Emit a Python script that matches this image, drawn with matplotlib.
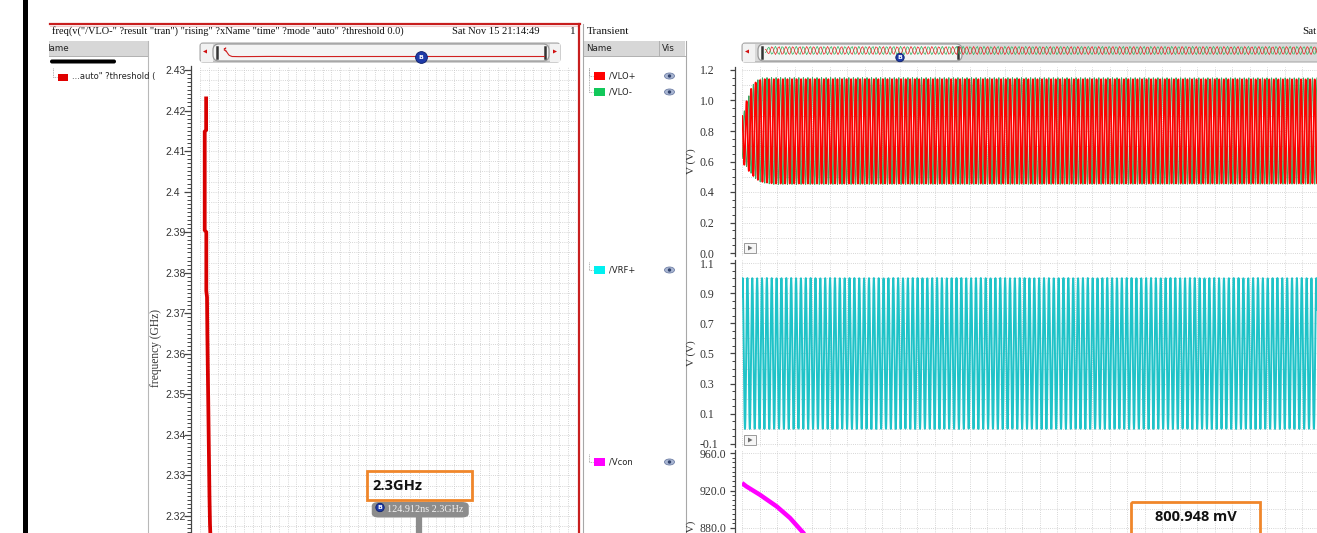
import numpy as np
import matplotlib
matplotlib.use("Agg")
import matplotlib.pyplot as plt
from matplotlib.patches import Rectangle, FancyBboxPatch, Circle, Ellipse, Polygon
from matplotlib.ticker import FixedLocator, AutoMinorLocator, FuncFormatter
from matplotlib.transforms import blended_transform_factory

W, H = 1317, 533

# ---------------- data ----------------
# freq(v("/VLO-")) : time [ns] vs. frequency [GHz]
freq_t_ns = [3.5, 3.5, 2.7, 2.7, 3.6, 3.6, 4.0, 4.2, 4.5, 4.8, 5.1, 5.4, 5.7,
             6.4, 7.5, 12.0, 30.0, 60.0, 90.0, 124.912, 160.0, 214.7]
freq_ghz = [2.423, 2.4152, 2.4148, 2.3905, 2.390, 2.3755, 2.374, 2.365, 2.355,
            2.345, 2.335, 2.325, 2.318, 2.310, 2.300, 2.298, 2.301, 2.299, 2.300,
            2.300, 2.300, 2.300]
freq_ticks = [2.30, 2.31, 2.32, 2.33, 2.34, 2.35, 2.36, 2.37, 2.38, 2.39, 2.40,
              2.41, 2.42, 2.43]
marker_t_ns = 124.912
marker_f_ghz = 2.3

# transient signals
sim_stop_ns = 214.7
view_stop_ns = 55.0
lo_ghz = 2.3
rf_ghz = 2.15
env_t_ns = [0.0, 0.5, 1.0, 1.5, 2.0, 3.0, 214.7]
vlop_hi = [0.90, 1.01, 1.10, 1.13, 1.14, 1.14, 1.14]
vlop_lo = [0.60, 0.55, 0.51, 0.48, 0.465, 0.455, 0.455]
vlon_hi = [0.88, 1.00, 1.10, 1.135, 1.15, 1.15, 1.15]
vlon_lo = [0.62, 0.56, 0.51, 0.475, 0.46, 0.45, 0.45]
vrf_low, vrf_high, vrf_start = 0.0, 1.0, 0.88
vcon_t_ns = [0.0, 0.4, 1.72, 3.32, 4.59, 5.84, 7.2]
vcon_mv = [928.0, 924.5, 915.4, 903.0, 890.7, 875.1, 858.0]
vcon_label_mv = 800.948

lo_ticks = [0.0, 0.2, 0.4, 0.6, 0.8, 1.0, 1.2]
rf_ticks = [-0.1, 0.1, 0.3, 0.5, 0.7, 0.9, 1.1]
vcon_ticks = [800.0, 840.0, 880.0, 920.0, 960.0]

# ---------------- style ----------------
SERIF = "Liberation Serif"
SANS = "DejaVu Sans"
GRID = "#c9c9c9"
TICKC = "#444444"
ORANGE = "#f0862a"
PT = 72 / 100  # points per pixel

fig = plt.figure(figsize=(W / 100, H / 100), dpi=100)
fig.patch.set_facecolor("white")


def px_axes(left, top, right, bottom, z=2):
    return fig.add_axes([left / W, 1 - bottom / H, (right - left) / W, (bottom - top) / H], zorder=z)


def ylim_from(top, bottom, p1, v1, p2, v2):
    k = (v1 - v2) / (p2 - p1)
    return v2 - (bottom - p2) * k, v1 + (p1 - top) * k


def overlay(z):
    a = fig.add_axes([0, 0, 1, 1], zorder=z)
    a.set_xlim(0, W)
    a.set_ylim(H, 0)
    a.axis("off")
    return a


def style_axis(ax, ticks, fmt, nminor, outward_px, tlen_px, label_left_px, font, fsize):
    """Detached left axis with tick labels left-aligned at a fixed x position."""
    for s in ("top", "right", "bottom"):
        ax.spines[s].set_visible(False)
    ax.spines["left"].set_position(("outward", outward_px * PT))
    ax.spines["left"].set_color(TICKC)
    ax.spines["left"].set_linewidth(0.9)
    ax.yaxis.set_major_locator(FixedLocator(ticks))
    ax.yaxis.set_minor_locator(AutoMinorLocator(nminor))
    ax.yaxis.set_major_formatter(FuncFormatter(fmt))
    x0 = ax.get_position().x0 * W
    spine_x = x0 - outward_px
    pad_px = spine_x - tlen_px - label_left_px
    ax.tick_params(axis="y", which="major", length=tlen_px * PT, width=0.9, color=TICKC,
                   pad=pad_px * PT, labelsize=fsize, labelcolor="#333333")
    ax.tick_params(axis="y", which="minor", length=tlen_px * PT * 0.55, width=0.7, color=TICKC)
    plt.setp(ax.yaxis.get_majorticklabels(), ha="left", family=font)
    ax.set_xticks([])


def dotted_grid(ax, x0, x1, xstep, y0, y1, ystep):
    for x in np.arange(x0, x1, xstep):
        ax.axvline(x, color=GRID, lw=0.6, ls=(0, (1, 1.6)), zorder=0)
    for y in np.arange(y0, y1, ystep):
        ax.axhline(y, color=GRID, lw=0.6, ls=(0, (1, 1.6)), zorder=0)


bg = overlay(0)
fg = overlay(10)

# ---------------- frequency plot ----------------
axf = px_axes(200, 66, 576, 630)
f_lo, f_hi = ylim_from(66, 630, 70, 2.43, 516, 2.32)
axf.set_ylim(f_lo, f_hi)
axf.set_xlim(0, sim_stop_ns)
style_axis(axf, freq_ticks, lambda v, _: f"{v:g}", 10, 9, 7, 165, "Liberation Sans", 7.5)
dotted_grid(axf, 0, sim_stop_ns, 5.0, 2.2875, f_hi, 0.0025)
axf.plot(freq_t_ns, freq_ghz, color="#d80000", lw=2.7, solid_joinstyle="miter", zorder=3)
fig.text(156 / W, 1 - 348 / H, "frequency (GHz)", rotation=90, ha="center", va="center",
         family=SERIF, fontsize=8.3, color="#333333")

# marker B on frequency trace
bt = blended_transform_factory(axf.transData, fg.transData)
ns_per_px = sim_stop_ns / 376
fg.plot([marker_t_ns, marker_t_ns], [517, 540], color="#8c8c8c", lw=4.5, transform=bt,
        solid_capstyle="butt", zorder=4)
fg.add_patch(FancyBboxPatch((marker_t_ns - 47 * ns_per_px, 502), 97 * ns_per_px, 15.5,
                            boxstyle="round,pad=0,rounding_size=4", transform=bt,
                            fc="#8c8c8c", ec="none", zorder=5))
fg.text(marker_t_ns - 32 * ns_per_px, 510, f"{marker_t_ns:g}ns {marker_f_ghz:g}GHz", transform=bt,
        ha="left", va="center", family=SERIF, fontsize=7.3, color="#f2f2f2", zorder=6)
fg.add_patch(Circle((380, 507.5), 4.2, fc="#1e3aa8", ec="#0c1f6a", lw=0.6, zorder=7))
fg.text(380, 507.7, "B", ha="center", va="center", fontsize=4.5, color="white",
        fontweight="bold", zorder=8)

fg.add_patch(Rectangle((367, 470.5), 105, 29, fill=False, ec=ORANGE, lw=2.0, zorder=6))
fg.text(372, 486, f"{marker_f_ghz:g}GHz", ha="left", va="center", family="Open Sans",
        fontweight="bold", fontsize=10.5, color="#111111", zorder=7)

# ---------------- transient plots ----------------
t = np.linspace(0, sim_stop_ns, int(sim_stop_ns * lo_ghz * 32))


def envelope(hi, lo):
    h = np.interp(t, env_t_ns, hi)
    l = np.interp(t, env_t_ns, lo)
    return (h + l) / 2, (h - l) / 2


mp, ap = envelope(vlop_hi, vlop_lo)
mn, an = envelope(vlon_hi, vlon_lo)
carrier = np.cos(2 * np.pi * lo_ghz * t)
vlo_p = mp + ap * carrier
vlo_n = mn - an * carrier
rf_mid, rf_amp = (vrf_high + vrf_low) / 2, (vrf_high - vrf_low) / 2
rf_phase = np.arcsin((vrf_start - rf_mid) / rf_amp)
vrf = rf_mid + rf_amp * np.sin(2 * np.pi * rf_ghz * t + rf_phase)

XSTEP = view_stop_ns * 17.5 / 575

ax1 = px_axes(742, 67, W, 256)
ax1.set_ylim(*ylim_from(67, 256, 70, 1.2, 253, 0.0))
ax1.set_xlim(0, view_stop_ns)
style_axis(ax1, lo_ticks, lambda v, _: f"{v:.1f}", 4, 7, 5.5, 699.5, SERIF, 8.5)
dotted_grid(ax1, 0, view_stop_ns, XSTEP, 0.0, 1.25, 0.1)
ax1.plot(t, vlo_n, color="#3aa860", lw=0.7, zorder=2)
ax1.plot(t, vlo_p, color="#ff0000", lw=1.25, zorder=3)
fig.text(691 / W, 1 - 161 / H, "V (V)", rotation=90, ha="center", va="center",
         family=SERIF, fontsize=8, color="#333333")

ax2 = px_axes(742, 260, W, 447)
ax2.set_ylim(*ylim_from(260, 447, 263, 1.1, 444, -0.1))
ax2.set_xlim(0, view_stop_ns)
style_axis(ax2, rf_ticks, lambda v, _: f"{v:.1f}", 4, 7, 5.5, 699.5, SERIF, 8.5)
dotted_grid(ax2, 0, view_stop_ns, XSTEP, -0.1, 1.15, 0.1)
ax2.plot(t, vrf, color="#1fc3c8", lw=1.4, zorder=3)
fig.text(691 / W, 1 - 353 / H, "V (V)", rotation=90, ha="center", va="center",
         family=SERIF, fontsize=8, color="#333333")

ax3 = px_axes(742, 450, W, 615)
ax3.set_ylim(*ylim_from(450, 615, 453, 960.0, 528, 880.0))
ax3.set_xlim(0, view_stop_ns)
style_axis(ax3, vcon_ticks, lambda v, _: f"{v:.1f}", 8, 7, 5.5, 699.5, SERIF, 8.5)
dotted_grid(ax3, 0, view_stop_ns, XSTEP, 780, 965, 20)
ax3.plot(vcon_t_ns, vcon_mv, color="#ff00ff", lw=3.2, solid_capstyle="butt", zorder=3)
fig.text(691 / W, 1 - 538 / H, "V (mV)", rotation=90, ha="center", va="center",
         family=SERIF, fontsize=8, color="#333333")

fg.add_patch(Rectangle((1131, 501.5), 129, 45, fill=False, ec=ORANGE, lw=2.0, zorder=6))
fg.text(1196, 517, f"{vcon_label_mv:.3f} mV", ha="center", va="center", family="Open Sans",
        fontweight="bold", fontsize=10.5, color="#111111", zorder=7)

# small expand buttons at the lower-left of the strips
for yb in (243, 435):
    fg.add_patch(Rectangle((744, yb), 12, 10, fc="#f6f6f6", ec="#9a9a9a", lw=0.7, zorder=6))
    fg.add_patch(Polygon([(748, yb + 2.5), (748, yb + 7.5), (752.5, yb + 5)],
                         fc="#6c6c6c", ec="none", zorder=7))

# ---------------- window chrome ----------------
bg.add_patch(Rectangle((23, 0), 4.5, H, fc="black", ec="none"))
bg.plot([50, 579.5], [24, 24], color="#c81e1e", lw=1.6)
bg.plot([50, 577.5], [26, 26], color="#f3c9c9", lw=0.8)
bg.plot([578.5, 578.5], [24, H], color="#c81e1e", lw=1.6)
bg.text(52, 31, 'freq(v("/VLO-" ?result "tran") "rising" ?xName "time" ?mode "auto" ?threshold 0.0)',
        ha="left", va="center", family=SERIF, fontsize=7.5, color="#111111")
bg.text(452, 31, "Sat Nov 15 21:14:49", ha="left", va="center", family=SERIF, fontsize=7.6,
        color="#111111")
bg.text(570, 31, "1", ha="left", va="center", family=SERIF, fontsize=8, color="#111111")
bg.text(1302, 31, "Sat", ha="left", va="center", family=SERIF, fontsize=8, color="#111111")
bg.text(587, 31, "Transient", ha="left", va="center", family=SERIF, fontsize=8.1, color="#111111")


def header(x0, x1, labels):
    bg.add_patch(Rectangle((x0, 41), x1 - x0, 15, fc="#d7d7d7", ec="none"))
    bg.plot([x0, x1], [56, 56], color="#b0b0b0", lw=0.7)
    for x, s in labels:
        bg.text(x, 48.5, s, ha="left", va="center", family=SANS, fontsize=6.3, color="#222222")


header(49, 148, [(43.5, "Name")])
bg.add_patch(Rectangle((28, 40), 21, 17, fc="white", ec="none", zorder=3))
bg.plot([148, 148], [41, H], color="#b8b8b8", lw=0.8)
bg.add_patch(FancyBboxPatch((50, 59.5), 66, 4, boxstyle="round,pad=0,rounding_size=2",
                            fc="black", ec="none"))

header(583, 685, [(586, "Name"), (661.5, "Vis")])
bg.plot([658.5, 658.5], [41, 56], color="#b0b0b0", lw=0.7)
bg.plot([582.5, 582.5], [24, H], color="#a8a8a8", lw=0.8)
bg.plot([685.5, 685.5], [41, H], color="#a8a8a8", lw=0.8)

DOT = dict(color="#9a9a9a", lw=0.6, ls=(0, (1, 1)))

# left panel legend
bg.plot([53, 53], [68, 77], **DOT)
bg.plot([53, 57], [77, 77], **DOT)
bg.add_patch(Rectangle((58, 73.5), 10, 7, fc="#e00000", ec="none"))
bg.text(72, 77, '...auto" ?threshold (', ha="left", va="center", family=SANS, fontsize=6,
        color="#222222")

# middle panel legend
legend_rows = [(76, "#ff0000", "/VLO+", 68), (92, "#12c85a", "/VLO-", 68),
               (270, "#00f0f0", "/VRF+", 262), (462, "#ff00ff", "/Vcon", 454)]
for y, c, name, ytop in legend_rows:
    bg.plot([589, 589], [ytop, y], **DOT)
    bg.plot([589, 593], [y, y], **DOT)
    bg.add_patch(Rectangle((594, y - 4), 11, 8, fc=c, ec="none"))
    bg.text(609, y, name, ha="left", va="center", family=SANS, fontsize=6, color="#222222")
    bg.add_patch(Ellipse((669.5, y), 10, 6, fc="#a9b6d2", ec="#6f7fa6", lw=0.6))
    bg.add_patch(Circle((669.5, y), 1.7, fc="#33446e", ec="none"))


# ---------------- overview sliders ----------------
def slider(x0, x1, t0, t1):
    bg.add_patch(FancyBboxPatch((x0, 43), x1 - x0, 19, boxstyle="round,pad=0,rounding_size=3",
                                fc="#d9d9d9", ec="#a9a9a9", lw=0.8))
    bg.add_patch(Rectangle((x0 + 0.5, 43.5), 12, 18, fc="#f2f2f2", ec="none"))
    bg.add_patch(Polygon([(x0 + 3, 51.5), (x0 + 7, 49.5), (x0 + 7, 53.5)], fc="#d01010", ec="none"))
    bg.add_patch(FancyBboxPatch((t0, 44), t1 - t0, 17, boxstyle="round,pad=0,rounding_size=6",
                                fc="#f4f4f4", ec="#9a9a9a", lw=0.9))
    for hx in (t0 + 4, t1 - 4):
        bg.plot([hx, hx], [47, 58], color="#333333", lw=1.8)


slider(200, 560, 213, 549)
bg.add_patch(Rectangle((550, 43.5), 10, 18, fc="#f2f2f2", ec="none"))
bg.add_patch(Polygon([(553, 49.5), (557, 51.5), (553, 53.5)], fc="#d01010", ec="none"))
slider(742, W + 20, 758, 962)

ovl = px_axes(220, 45, 545, 60, z=3)
ovl.axis("off")
ovl.set_xlim(0, 202)
ovl.set_ylim(*ylim_from(45, 60, 48, 2.423, 56.5, 2.30))
ovl.plot(freq_t_ns, freq_ghz, color="#d02020", lw=0.8)
ovl.plot([marker_t_ns], [2.2875], marker="o", ms=8.5, mfc="#1e3aa8", mec="#0c1f6a", mew=0.6,
         clip_on=False)
ovl.text(marker_t_ns, 2.2875, "B", ha="center", va="center", fontsize=4.5, color="white",
         fontweight="bold", clip_on=False)

# decimated overview of the LO pair
step = 26
ovr = px_axes(765, 46, 765 + 792, 55, z=3)
ovr.axis("off")
ovr.set_xlim(0, sim_stop_ns)
ovr.set_ylim(0.42, 1.18)
ovr.plot(t[::step], vlo_n[::step], color="#2db45a", lw=0.5)
ovr.plot(t[::step], vlo_p[::step], color="#e82020", lw=0.5)
fg.add_patch(Circle((900, 57.5), 4.2, fc="#1e3aa8", ec="#0c1f6a", lw=0.6, zorder=7))
fg.text(900, 57.7, "B", ha="center", va="center", fontsize=4.5, color="white",
        fontweight="bold", zorder=8)

fig.savefig("out.png", dpi=100)
